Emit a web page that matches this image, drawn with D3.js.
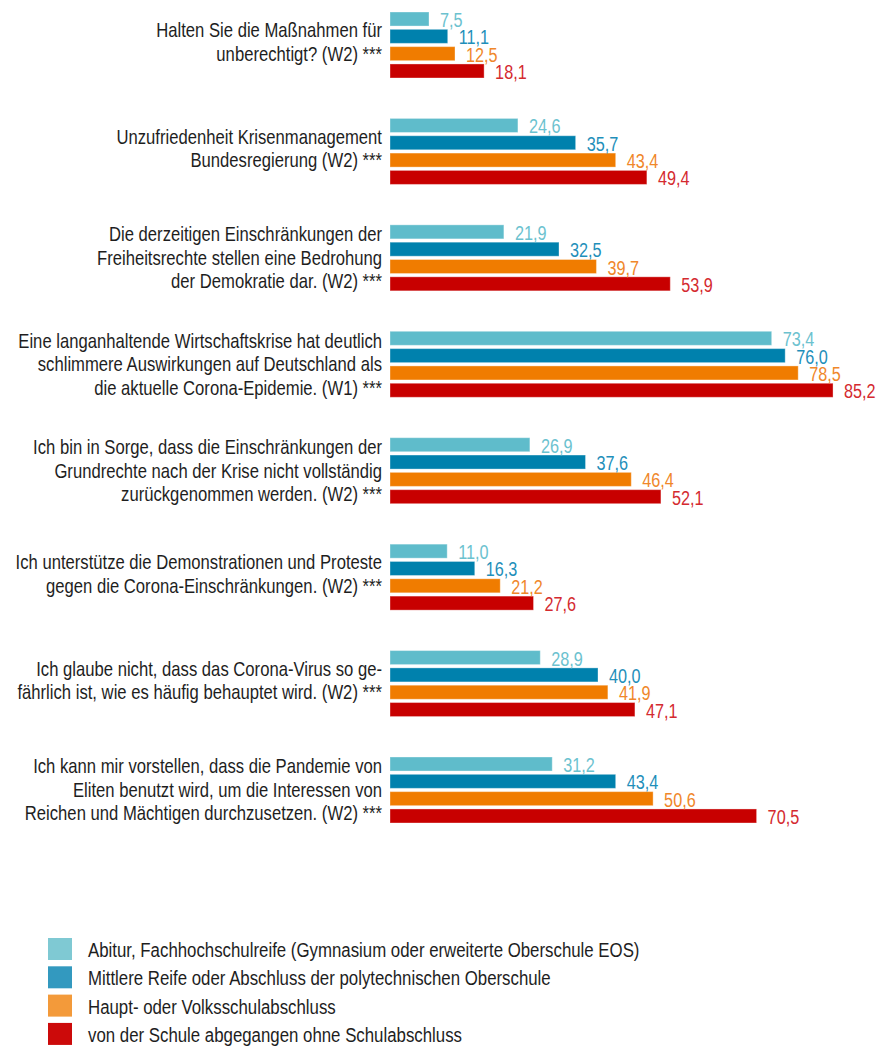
<!DOCTYPE html>
<html>
<head>
<meta charset="utf-8">
<script src="https://cdn.jsdelivr.net/npm/d3@7/dist/d3.min.js"></script>
<style>
  html, body { margin: 0; padding: 0; background: #fff; }
  svg { display: block; }
  text { font-family: "Liberation Sans", Arial, sans-serif; }
</style>
</head>
<body>
<svg id="chart" width="888" height="1046"></svg>
<script>
const categories = [
  ["Halten Sie die Maßnahmen für", "unberechtigt? (W2) ***"],
  ["Unzufriedenheit Krisenmanagement", "Bundesregierung (W2) ***"],
  ["Die derzeitigen Einschränkungen der", "Freiheitsrechte stellen eine Bedrohung", "der Demokratie dar. (W2) ***"],
  ["Eine langanhaltende Wirtschaftskrise hat deutlich", "schlimmere Auswirkungen auf Deutschland als", "die aktuelle Corona-Epidemie. (W1) ***"],
  ["Ich bin in Sorge, dass die Einschränkungen der", "Grundrechte nach der Krise nicht vollständig", "zurückgenommen werden. (W2) ***"],
  ["Ich unterstütze die Demonstrationen und Proteste", "gegen die Corona-Einschränkungen. (W2) ***"],
  ["Ich glaube nicht, dass das Corona-Virus so ge-", "fährlich ist, wie es häufig behauptet wird. (W2) ***"],
  ["Ich kann mir vorstellen, dass die Pandemie von", "Eliten benutzt wird, um die Interessen von", "Reichen und Mächtigen durchzusetzen. (W2) ***"]
];
const seriesNames = [
  "Abitur, Fachhochschulreife (Gymnasium oder erweiterte Oberschule EOS)",
  "Mittlere Reife oder Abschluss der polytechnischen Oberschule",
  "Haupt- oder Volksschulabschluss",
  "von der Schule abgegangen ohne Schulabschluss"
];
const abitur   = [7.5, 24.6, 21.9, 73.4, 26.9, 11.0, 28.9, 31.2];
const mittlere = [11.1, 35.7, 32.5, 76.0, 37.6, 16.3, 40.0, 43.4];
const haupt    = [12.5, 43.4, 39.7, 78.5, 46.4, 21.2, 41.9, 50.6];
const ohne     = [18.1, 49.4, 53.9, 85.2, 52.1, 27.6, 47.1, 70.5];
const seriesValues = [abitur, mittlere, haupt, ohne];

const barColors    = ["#5fbccb", "#0081ad", "#f07c00", "#c80000"];
const labelColors  = ["#6cc2cf", "#1f8fba", "#f0872a", "#d42a2f"];
const legendColors = ["#7fc9d3", "#3399bf", "#f39a3a", "#cc0a0a"];

const svg = d3.select("#chart");

// horizontal compression to mimic the condensed typeface
const probe = svg.append("text").style("font-size", "20px").text(categories[3][0]);
const sx = 364 / probe.node().getComputedTextLength();
probe.remove();

const x = d3.scaleLinear().domain([0, 100]).range([390, 910]);
const y0 = d3.scaleBand().domain(d3.range(categories.length)).range([12, 825]).paddingInner(0.361).paddingOuter(0);
const y1 = d3.scaleBand().domain(d3.range(seriesValues.length)).range([0, 66]).paddingInner(0.19);
const locale = d3.formatLocale({decimal: ",", thousands: ".", grouping: [3], currency: ["", " €"]});
const fmt = locale.format(".1f");

const groups = svg.selectAll("g.group")
  .data(categories)
  .join("g")
  .attr("class", "group")
  .attr("transform", (d, i) => `translate(0,${y0(i)})`);

groups.each(function(lines, gi) {
  const g = d3.select(this);
  const lh = 23.5;
  const mid = lines.length === 3 ? 40 : 37;
  const first = mid - (lines.length - 1) * lh / 2;
  g.append("g")
    .attr("transform", `translate(382,0) scale(${sx},1)`)
    .append("text")
    .attr("text-anchor", "end")
    .attr("fill", "#1e1e1e")
    .style("font-size", "20px")
    .selectAll("tspan")
    .data(lines)
    .join("tspan")
    .attr("x", 0)
    .attr("y", (d, li) => first + li * lh)
    .text(d => d);

  const vals = seriesValues.map((s, si) => ({si, v: s[gi]}));
  g.selectAll("rect")
    .data(vals)
    .join("rect")
    .attr("x", x(0))
    .attr("y", d => y1(d.si))
    .attr("width", d => x(d.v) - x(0))
    .attr("height", y1.bandwidth())
    .attr("fill", d => barColors[d.si])
    .attr("stroke", "#ffffff")
    .attr("stroke-opacity", 0.35)
    .attr("stroke-width", 1);

  g.selectAll("text.val")
    .data(vals)
    .join("text")
    .attr("class", "val")
    .attr("transform", d => `translate(${x(d.v) + 11},${y1(d.si) + y1.bandwidth() + 1}) scale(${sx},1)`)
    .attr("fill", d => labelColors[d.si])
    .style("font-size", "19.5px")
    .text(d => fmt(d.v));
});

const legend = svg.append("g").attr("transform", "translate(48,938)");
const ly = d3.scaleBand().domain(d3.range(seriesNames.length)).range([0, 107]).paddingInner(0.22);
const li = legend.selectAll("g").data(seriesNames).join("g")
  .attr("transform", (d, i) => `translate(0,${ly(i)})`);
li.append("rect")
  .attr("width", 24).attr("height", 22)
  .attr("fill", (d, i) => legendColors[i]);
li.append("text")
  .attr("transform", `translate(40,19) scale(${sx},1)`)
  .attr("fill", "#1e1e1e")
  .style("font-size", "20.2px")
  .text(d => d);
</script>
</body>
</html>
